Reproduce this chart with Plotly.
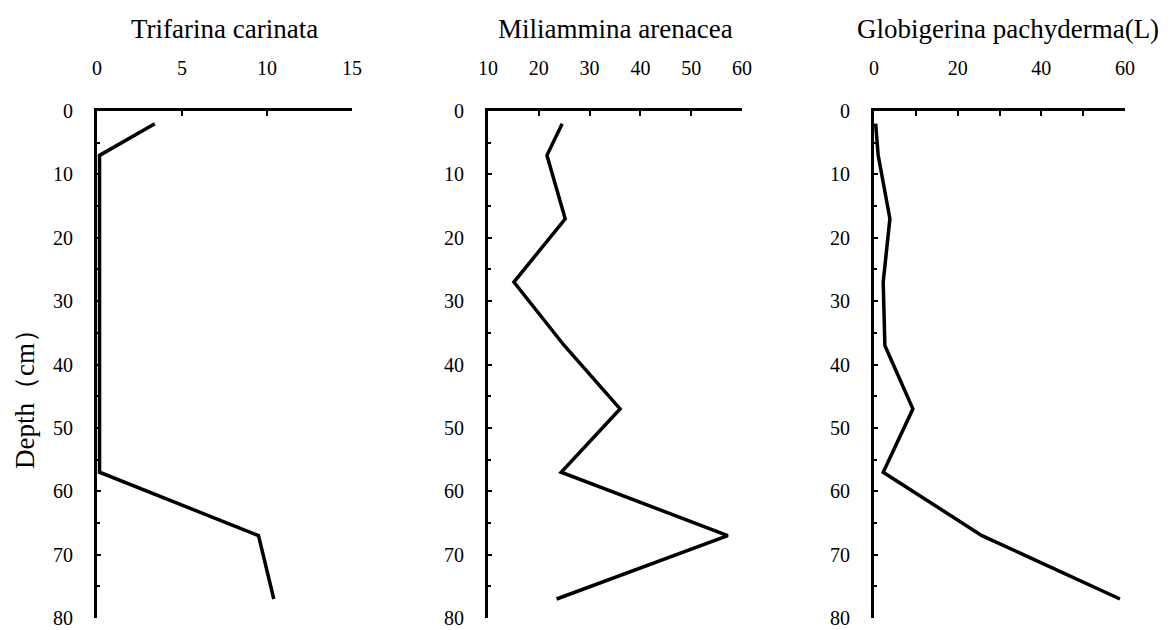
import plotly.graph_objects as go

depth = [2, 7, 17, 27, 37, 47, 57, 67, 77]
trifarina = [3.4, 0.15, 0.15, 0.15, 0.15, 0.15, 0.15, 9.5, 10.4]
miliammina = [24.6, 21.6, 25.2, 15.1, 25.0, 36.0, 24.4, 57.2, 23.5]
globigerina = [0.4, 1.0, 3.8, 2.2, 2.6, 9.3, 2.2, 25.8, 58.8]

titles = ["Trifarina carinata", "Miliammina arenacea", "Globigerina pachyderma(L)"]
x_ranges = [[0, 15], [10, 60], [0, 60]]
x_ticks = [[0, 5, 10, 15], [10, 20, 30, 40, 50, 60], [0, 20, 40, 60]]
y_ticks = [0, 10, 20, 30, 40, 50, 60, 70, 80]

# page body has an 8px default margin; work in reference pixels and shift
OFF = 8
W, H = 1176 - OFF, 630 - OFF
px_left = [97, 488, 874]
px_right = [352, 742, 1125]
y_top, y_bot = 111, 618


def fx(px):
    return (px - OFF) / W


def fy(py):
    return 1 - (py - OFF) / H


font_family = "Liberation Serif"
fig = go.Figure()
series = [trifarina, miliammina, globigerina]
for i, vals in enumerate(series):
    suffix = "" if i == 0 else str(i + 1)
    fig.add_trace(go.Scatter(x=vals, y=depth, mode="lines",
                             line=dict(color="black", width=3.5),
                             xaxis="x" + suffix, yaxis="y" + suffix,
                             showlegend=False))
    xa = dict(domain=[fx(px_left[i]), fx(px_right[i])], range=x_ranges[i],
              side="top", anchor="y" + suffix, showline=True, linecolor="black",
              linewidth=3, ticks="inside", ticklen=5, tickwidth=2, tickcolor="black",
              tickvals=x_ticks[i], showgrid=False, zeroline=False,
              automargin=False, ticklabelstandoff=25, ticklabeloverflow="allow",
              tickfont=dict(family=font_family, size=20, color="black"))
    if i == 2:
        xa["minor"] = dict(ticks="inside", ticklen=5, tickwidth=2, tickcolor="black",
                           dtick=10, tick0=0)
    ya = dict(domain=[fy(y_bot), fy(y_top)], range=[80, 0],
              anchor="x" + suffix, showline=True, linecolor="black", linewidth=3,
              ticks="inside", ticklen=4, tickwidth=2, tickcolor="black",
              tickvals=y_ticks, showgrid=False, zeroline=False, automargin=False,
              ticklabelstandoff=17, ticklabeloverflow="allow",
              minor=dict(ticks="inside", ticklen=3, tickwidth=1.5, tickcolor="black",
                         dtick=5, tick0=0),
              tickfont=dict(family=font_family, size=20, color="black"))
    fig.update_layout(**{"xaxis" + suffix: xa, "yaxis" + suffix: ya})
    fig.add_annotation(text=titles[i], xref="paper", yref="paper",
                       x=fx((px_left[i] + px_right[i]) / 2 + (8 if i == 2 else 0)),
                       y=fy(29),
                       showarrow=False, xanchor="center", yanchor="middle",
                       font=dict(family=font_family, size=27, color="black"))

fig.add_annotation(text="Depth（cm）", xref="paper", yref="paper",
                   x=fx(25), y=fy(393), textangle=-90, showarrow=False,
                   xanchor="center", yanchor="middle",
                   font=dict(family=font_family, size=27, color="black"))

fig.update_layout(width=W, height=H, margin=dict(l=0, r=0, t=0, b=0),
                  paper_bgcolor="white", plot_bgcolor="white")
fig.write_html("out.html")
